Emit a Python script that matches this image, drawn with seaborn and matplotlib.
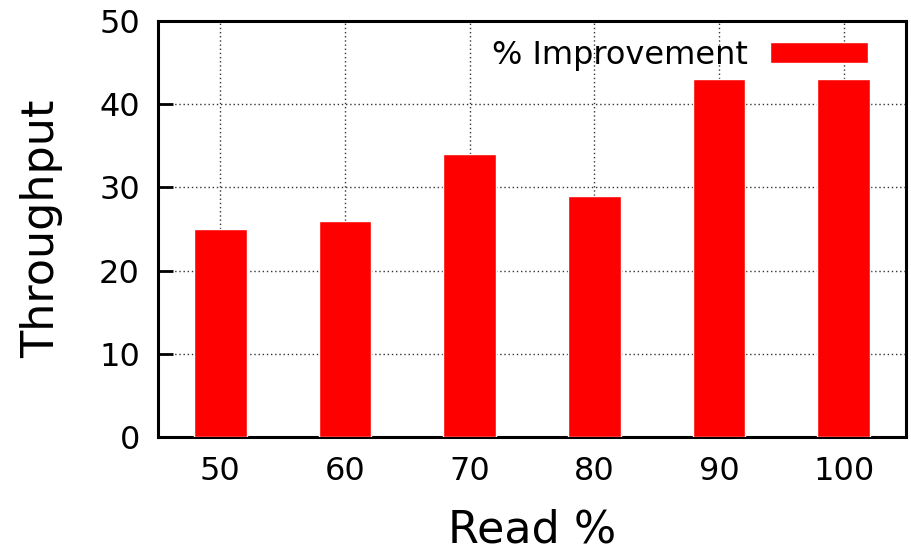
import matplotlib
matplotlib.use("Agg")
import matplotlib.pyplot as plt
import seaborn as sns
import pandas as pd

categories = ["50", "60", "70", "80", "90", "100"]
improvement = [25, 26, 34, 29, 43, 43]
y_ticks = [0, 10, 20, 30, 40, 50]

sns.set_style("white")
plt.rcParams["font.family"] = ["DejaVu Sans"]
plt.rcParams["text.color"] = "black"
plt.rcParams["axes.labelcolor"] = "black"
plt.rcParams["xtick.color"] = "black"
plt.rcParams["ytick.color"] = "black"

df = pd.DataFrame({"Read %": categories, "Throughput": improvement})

fig = plt.figure(figsize=(9.12, 5.5), dpi=100)
ax = fig.add_axes([158 / 912, 1 - 437 / 550, 748 / 912, 416 / 550])

sns.barplot(data=df, x="Read %", y="Throughput", color="#ff0000", width=0.42,
            saturation=1, ax=ax, label="% Improvement", zorder=3)

ax.set_xlim(-0.5, 5.5)
ax.set_ylim(0, 50)
ax.set_yticks(y_ticks)
ax.grid(True, linestyle=(0, (1, 2)), color="#333333", linewidth=1.0, zorder=0)
ax.set_axisbelow(True)
for s in ax.spines.values():
    s.set_linewidth(2.2)
    s.set_color("black")
    s.set_visible(True)

ax.tick_params(axis="y", direction="in", left=True, right=False, length=11, width=2,
               labelsize=23, pad=13)
ax.tick_params(axis="x", length=0, labelsize=23, pad=14)
ax.set_xlabel("Read %", fontsize=32, labelpad=15)
ax.set_ylabel("Throughput", fontsize=32, labelpad=26)

leg = ax.legend(loc="upper right", bbox_to_anchor=(0.949, 0.955), frameon=False,
                fontsize=23, markerfirst=False, handlelength=3.06, handleheight=0.63,
                borderaxespad=0, borderpad=0, handletextpad=0.7)

fig.savefig("out.png", dpi=100)
